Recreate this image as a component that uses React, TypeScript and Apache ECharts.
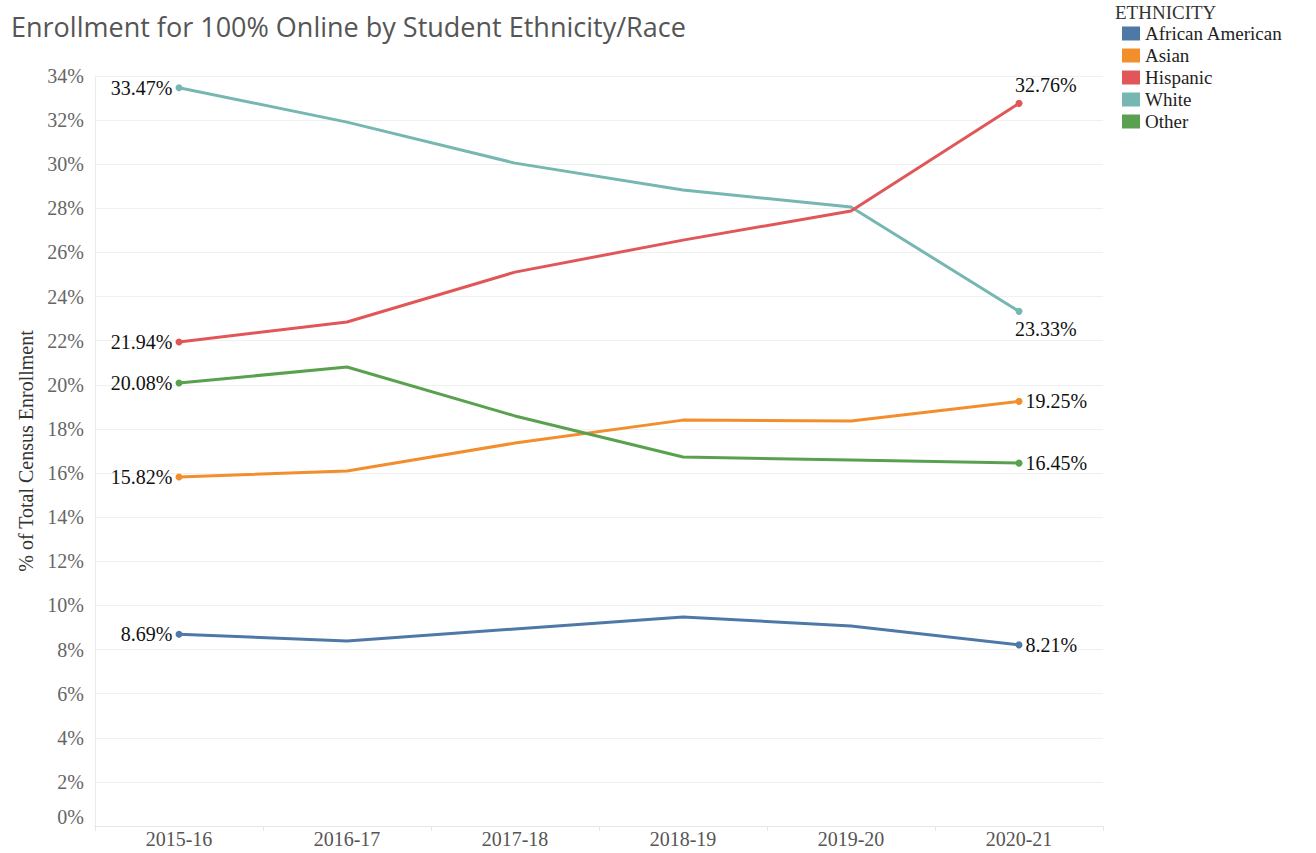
import React, { useEffect, useRef } from "react";
import * as echarts from "echarts";

const categories = ["2015-16", "2016-17", "2017-18", "2018-19", "2019-20", "2020-21"];
const seriesNames = ["African American", "Asian", "Hispanic", "White", "Other"];
const africanAmerican = [8.69, 8.39, 8.93, 9.47, 9.07, 8.21];
const asian = [15.82, 16.09, 17.36, 18.4, 18.36, 19.25];
const hispanic = [21.94, 22.85, 25.11, 26.56, 27.88, 32.76];
const white = [33.47, 31.91, 30.05, 28.83, 28.06, 23.33];
const other = [20.08, 20.81, 18.59, 16.73, 16.59, 16.45];
const colors = ["#4e79a7", "#f28e2b", "#e15759", "#76b7b2", "#59a14f"];
const yTicks = { min: 0, max: 34, interval: 2 };

const SERIF = "'Liberation Serif', 'Times New Roman', serif";

export default function App() {
  const ref = useRef<HTMLDivElement>(null);
  useEffect(() => {
    if (!ref.current) return;
    const chart = echarts.init(ref.current, undefined, { renderer: "svg" });
    const allData = [africanAmerican, asian, hispanic, white, other];
    const lastLabel: any[] = [
      { position: "right", distance: 3 },
      { position: "right", distance: 3 },
      { position: "top", align: "left", distance: 5, offset: [-4, 0] },
      { position: "bottom", align: "left", distance: 4, offset: [-4, 0] },
      { position: "right", distance: 3 },
    ];
    const labelStyle = {
      show: true,
      fontFamily: SERIF,
      fontSize: 20,
      color: "#111",
      formatter: (p: any) => `${Number(p.value).toFixed(2)}%`,
    };
    const series = allData.map((arr, si) => ({
      name: seriesNames[si],
      type: "line",
      color: colors[si],
      lineStyle: { width: 3, color: colors[si] },
      itemStyle: { color: colors[si] },
      symbol: "circle",
      showSymbol: true,
      z: si === 2 ? 5 : 3,
      data: arr.map((v, i) => {
        if (i === 0) {
          return { value: v, symbolSize: 7, label: { ...labelStyle, position: "left", distance: 3 } };
        }
        if (i === arr.length - 1) {
          return { value: v, symbolSize: 7, label: { ...labelStyle, ...lastLabel[si] } };
        }
        return { value: v, symbolSize: 0 };
      }),
    }));
    chart.setOption({
      animation: false,
      backgroundColor: "#ffffff",
      title: {
        text: "Enrollment for 100% Online by Student Ethnicity/Race",
        left: 6,
        top: 8,
        textStyle: {
          fontFamily: "'Open Sans', sans-serif",
          fontWeight: "normal",
          fontSize: 27,
          color: "#555",
        },
      },
      legend: {
        orient: "vertical",
        left: 1117,
        top: 19,
        icon: "rect",
        itemWidth: 18,
        itemHeight: 14,
        itemGap: 3,
        data: seriesNames,
        textStyle: { fontFamily: SERIF, fontSize: 19, color: "#222" },
      },
      graphic: [
        {
          type: "text",
          left: 1115,
          top: 3,
          style: { text: "ETHNICITY", fontFamily: SERIF, fontSize: 19, fill: "#333" },
        },
      ],
      grid: { left: 95, right: 213, top: 76, bottom: 27, containLabel: false },
      xAxis: {
        type: "category",
        data: categories,
        boundaryGap: true,
        axisLine: { show: true, lineStyle: { color: "#e6e6e6" } },
        axisTick: { show: true, length: 5, lineStyle: { color: "#e6e6e6" } },
        axisLabel: { fontFamily: SERIF, fontSize: 20, color: "#555", margin: 3 },
        splitLine: { show: false },
      },
      yAxis: {
        type: "value",
        min: yTicks.min,
        max: yTicks.max,
        interval: yTicks.interval,
        name: "% of Total Census Enrollment",
        nameLocation: "middle",
        nameGap: 58,
        nameRotate: 90,
        nameTextStyle: { fontFamily: SERIF, fontSize: 20, color: "#333" },
        axisLine: { show: true, lineStyle: { color: "#ebebeb" } },
        axisTick: { show: false },
        axisLabel: {
          fontFamily: SERIF,
          fontSize: 20,
          color: "#666",
          margin: 11,
          formatter: (v: number) => (v === 0 ? "{z|0%}" : `${v}%`),
          rich: {
            z: { fontFamily: SERIF, fontSize: 20, color: "#666", padding: [0, 0, 18, 0] },
          },
        },
        splitLine: { show: true, lineStyle: { color: "#f0f0f0", width: 1 } },
      },
      series,
    });
    return () => chart.dispose();
  }, []);
  return (
    <div
      ref={ref}
      style={{ position: "absolute", left: 0, top: 0, width: 1316, height: 853 }}
    />
  );
}
